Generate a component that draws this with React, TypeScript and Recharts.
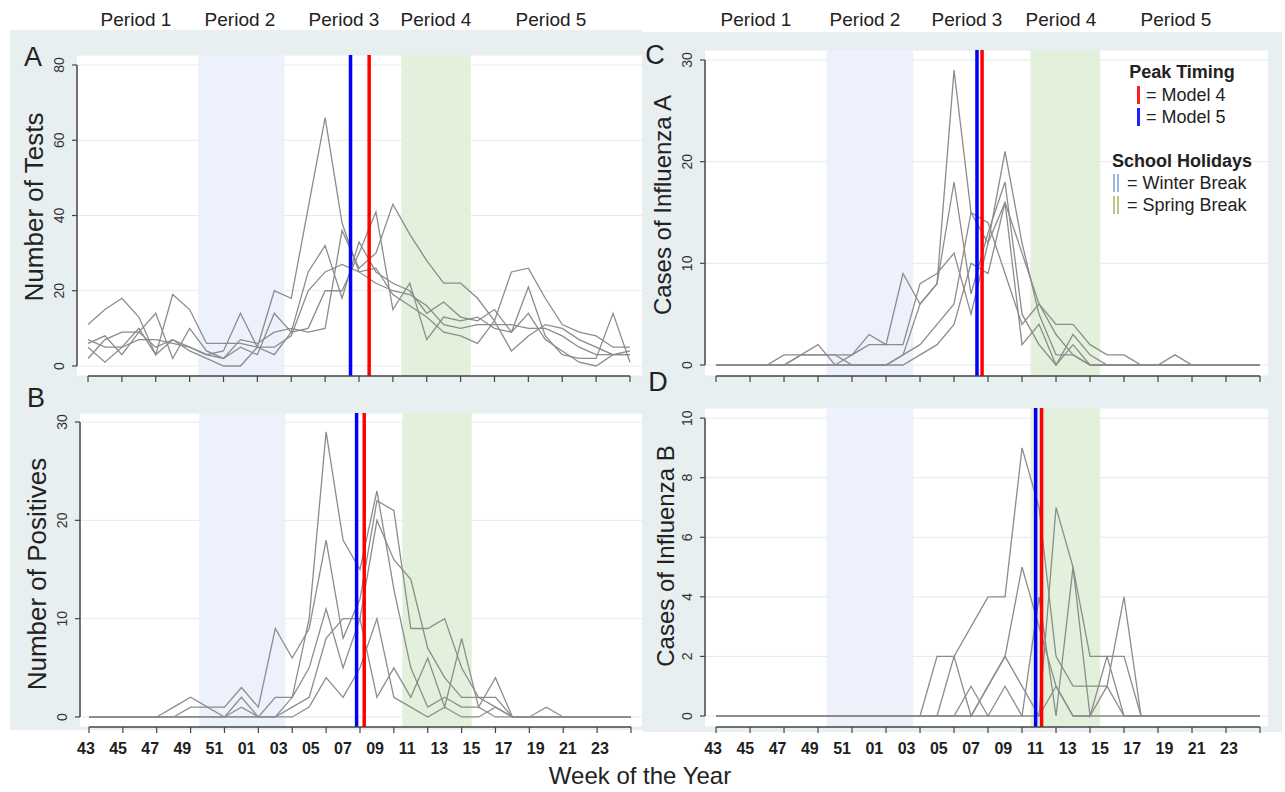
import React from 'react';
import { LineChart, Line, XAxis, YAxis, CartesianGrid, ReferenceArea, ReferenceLine } from 'recharts';

const FONT = '"Liberation Sans", Arial, Helvetica, sans-serif';

// week of the year, season runs from week 43 to week 23
const weeks = ['43', '44', '45', '46', '47', '48', '49', '50', '51', '52', '01', '02', '03', '04', '05', '06', '07',
  '08', '09', '10', '11', '12', '13', '14', '15', '16', '17', '18', '19', '20', '21', '22', '23'];
const tickWeeks = ['43', '45', '47', '49', '51', '01', '03', '05', '07', '09', '11', '13', '15', '17', '19', '21', '23'];
const periodLabels = ['Period 1', 'Period 2', 'Period 3', 'Period 4', 'Period 5'];

// school holidays, as fractional week positions
const winterBreak = [6.5, 11.6];
const springBreak = [18.5, 22.6];

// A: number of tests
const tests1 = [11, 15, 18, 13, 3, 19, 15, 6, 6, 6, 5, 20, 18, 42, 66, 38, 25, 22, 20, 19, 16, 11, 10, 11, 11, 11, 10, 10, 8, 5, 3, 3, 3];
const tests2 = [6, 8, 3, 9, 14, 2, 10, 4, 2, 5, 3, 14, 9, 25, 32, 18, 33, 25, 22, 20, 14, 17, 13, 12, 15, 9, 14, 7, 4, 1, 0, 3, 3];
const tests3 = [5, 1, 5, 7, 7, 6, 5, 3, 4, 14, 5, 5, 8, 20, 25, 27, 25, 26, 19, 16, 13, 9, 8, 6, 12, 4, 8, 11, 10, 7, 5, 3, 4];
const tests4 = [2, 7, 9, 9, 5, 7, 4, 2, 0, 0, 5, 3, 9, 10, 20, 20, 30, 41, 15, 22, 7, 13, 12, 13, 10, 9, 21, 8, 3, 2, 2, 14, 1];
const tests5 = [7, 5, 5, 10, 3, 7, 5, 3, 2, 7, 6, 9, 10, 9, 10, 36, 26, 30, 43, 35, 28, 22, 22, 18, 12, 25, 26, 18, 11, 9, 8, 5, 5];

// B: number of positives
const pos1 = [0, 0, 0, 0, 0, 0, 0, 0, 0, 0, 0, 0, 2, 10, 29, 18, 15, 23, 13, 5, 1, 2, 1, 1, 0, 0, 0, 0, 0, 0, 0, 0, 0];
const pos2 = [0, 0, 0, 0, 0, 1, 2, 1, 1, 3, 1, 9, 6, 9, 18, 8, 12, 22, 21, 9, 9, 10, 5, 2, 1, 0, 0, 0, 0, 0, 0, 0, 0];
const pos3 = [0, 0, 0, 0, 0, 0, 1, 1, 0, 2, 0, 2, 2, 5, 11, 5, 10, 20, 16, 14, 7, 4, 2, 2, 2, 0, 0, 0, 0, 0, 0, 0, 0];
const pos4 = [0, 0, 0, 0, 0, 0, 0, 0, 0, 1, 0, 0, 1, 2, 8, 10, 10, 2, 5, 2, 6, 1, 8, 1, 4, 0, 0, 1, 0, 0, 0, 0, 0];
const pos5 = [0, 0, 0, 0, 0, 0, 0, 0, 0, 0, 0, 0, 0, 1, 4, 2, 5, 10, 2, 1, 0, 1, 0, 0, 1, 0, 0, 0, 0, 0, 0, 0, 0];

// C: cases of influenza A
const fluA1 = [0, 0, 0, 0, 0, 0, 0, 0, 0, 0, 0, 1, 6, 8, 29, 15, 12, 21, 12, 5, 1, 1, 0, 0, 0, 0, 0, 0, 0, 0, 0, 0, 0];
const fluA2 = [0, 0, 0, 0, 0, 1, 1, 1, 1, 3, 2, 9, 6, 8, 18, 7, 13, 18, 5, 2, 0, 3, 1, 0, 0, 0, 0, 0, 0, 0, 0, 0, 0];
const fluA3 = [0, 0, 0, 0, 1, 1, 2, 0, 1, 2, 2, 2, 8, 9, 11, 5, 12, 16, 11, 6, 4, 4, 2, 1, 1, 0, 0, 0, 0, 0, 0, 0, 0];
const fluA4 = [0, 0, 0, 0, 0, 1, 1, 1, 0, 0, 0, 1, 2, 4, 6, 15, 14, 9, 4, 6, 3, 1, 0, 0, 0, 0, 0, 1, 0, 0, 0, 0, 0];
const fluA5 = [0, 0, 0, 0, 0, 0, 0, 0, 0, 0, 0, 0, 1, 2, 4, 10, 9, 16, 2, 4, 0, 2, 0, 0, 0, 0, 0, 0, 0, 0, 0, 0, 0];

// D: cases of influenza B
const fluB1 = [0, 0, 0, 0, 0, 0, 0, 0, 0, 0, 0, 0, 0, 0, 2, 3, 4, 4, 9, 7, 2, 1, 1, 1, 0, 0, 0, 0, 0, 0, 0, 0, 0];
const fluB2 = [0, 0, 0, 0, 0, 0, 0, 0, 0, 0, 0, 0, 0, 2, 2, 0, 1, 2, 5, 3, 1, 0, 0, 0, 0, 0, 0, 0, 0, 0, 0, 0, 0];
const fluB3 = [0, 0, 0, 0, 0, 0, 0, 0, 0, 0, 0, 0, 0, 0, 0, 1, 0, 1, 0, 0, 7, 5, 2, 2, 0, 0, 0, 0, 0, 0, 0, 0, 0];
const fluB4 = [0, 0, 0, 0, 0, 0, 0, 0, 0, 0, 0, 0, 0, 0, 0, 0, 0, 0, 0, 4, 0, 5, 0, 1, 4, 0, 0, 0, 0, 0, 0, 0, 0];
const fluB5 = [0, 0, 0, 0, 0, 0, 0, 0, 0, 0, 0, 0, 0, 0, 0, 0, 1, 2, 1, 0, 1, 0, 0, 2, 2, 0, 0, 0, 0, 0, 0, 0, 0];

// peak timing estimates (fractional week position)
const peakModel4 = { A: 16.6, B: 16.25, C: 15.65, D: 19.15 };
const peakModel5 = { A: 15.5, B: 15.8, C: 15.35, D: 18.8 };

const tickIdx = tickWeeks.map((w) => weeks.indexOf(w));

const panels = [
  {
    key: 'A', title: 'Number of Tests', titleSize: 26, series: [tests1, tests2, tests3, tests4, tests5],
    plot: { l: 77, t: 55, r: 642, b: 376 }, xDomain: [-0.65, 32.71], yDomain: [-2.66, 82.66], yTicks: [0, 20, 40, 60, 80],
    labels: false, letter: { x: 33, y: 57 }, titlePos: { x: 34, y: 207 },
  },
  {
    key: 'B', title: 'Number of Positives', titleSize: 26, series: [pos1, pos2, pos3, pos4, pos5],
    plot: { l: 80, t: 413, r: 642, b: 727 }, xDomain: [-0.53, 32.65], yDomain: [-1.02, 30.92], yTicks: [0, 10, 20, 30],
    labels: true, letter: { x: 36, y: 398 }, titlePos: { x: 37, y: 574 },
  },
  {
    key: 'C', title: 'Cases of Influenza A', titleSize: 24, series: [fluA1, fluA2, fluA3, fluA4, fluA5],
    plot: { l: 705, t: 50, r: 1268, b: 376 }, xDomain: [-0.65, 32.47], yDomain: [-1.08, 30.98], yTicks: [0, 10, 20, 30],
    labels: false, letter: { x: 655, y: 55 }, titlePos: { x: 663, y: 205 },
  },
  {
    key: 'D', title: 'Cases of Influenza B', titleSize: 24, series: [fluB1, fluB2, fluB3, fluB4, fluB5],
    plot: { l: 705, t: 408, r: 1268, b: 727 }, xDomain: [-0.65, 32.47], yDomain: [-0.37, 10.34], yTicks: [0, 2, 4, 6, 8, 10],
    labels: true, letter: { x: 658, y: 382 }, titlePos: { x: 666, y: 556 },
  },
];

const Y_AXIS_W = 40;
const X_AXIS_H = 40;

function makeXTick(show: boolean) {
  return (props: any) => {
    const { x, y, payload } = props;
    if (!show) return <g />;
    // the printed labels sit a little left of their ticks, more so toward the right
    const drift = -3 - 0.875 * payload.value;
    return (
      <text x={x + drift} y={y + 19} textAnchor="middle" fontSize={16} fontWeight="bold" fill="#1e1e1e" fontFamily={FONT}>
        {weeks[payload.value]}
      </text>
    );
  };
}

const YTick = (props: any) => {
  const { x, y, payload } = props;
  const bx = x - 6;
  return (
    <text x={bx} y={y} transform={`rotate(-90 ${bx} ${y})`} textAnchor="middle" fontSize={14} fill="#333" fontFamily={FONT}>
      {payload.value}
    </text>
  );
};

function Panel({ cfg }: { cfg: any }) {
  const { plot, xDomain, yDomain, yTicks, series, key } = cfg;
  const width = plot.r - plot.l + Y_AXIS_W;
  const height = plot.b - plot.t + X_AXIS_H;
  const data = weeks.map((w, i) => {
    const row: any = { i, week: w };
    series.forEach((s: number[], k: number) => { row['s' + k] = s[i]; });
    return row;
  });
  const yTop = yTicks[yTicks.length - 1];
  return (
    <div style={{ position: 'absolute', left: plot.l - Y_AXIS_W, top: plot.t }}>
      <LineChart width={width} height={height} data={data} margin={{ top: 0, right: 0, bottom: 0, left: 0 }}>
        <CartesianGrid vertical={false} stroke="#e3ebee" fill="#ffffff" fillOpacity={1} />
        <ReferenceArea x1={winterBreak[0]} x2={winterBreak[1]} fill="#edf1fc" fillOpacity={1} stroke="none" />
        <ReferenceArea x1={springBreak[0]} x2={springBreak[1]} fill="#e3f1dc" fillOpacity={1} stroke="none" />
        <XAxis
          type="number" dataKey="i" domain={xDomain} allowDataOverflow ticks={tickIdx} interval={0}
          height={X_AXIS_H} axisLine={false} tickLine={{ stroke: '#444', strokeWidth: 1.2 }} tickSize={6}
          tick={makeXTick(cfg.labels)}
        />
        <YAxis
          type="number" domain={yDomain} allowDataOverflow ticks={yTicks} interval={0}
          width={Y_AXIS_W} axisLine={false} tickLine={{ stroke: '#444', strokeWidth: 1.2 }} tickSize={5}
          tick={YTick}
        />
        {series.map((_: number[], k: number) => (
          <Line key={k} type="linear" dataKey={'s' + k} stroke="#8c8c8c" strokeWidth={1.3} dot={false} activeDot={false} isAnimationActive={false} />
        ))}
        <ReferenceLine x={(peakModel5 as any)[key]} stroke="#0000ff" strokeWidth={3.5} />
        <ReferenceLine x={(peakModel4 as any)[key]} stroke="#ff0000" strokeWidth={3.5} />
        <ReferenceLine segment={[{ x: 0, y: yDomain[0] }, { x: weeks.length - 1, y: yDomain[0] }]} stroke="#444" strokeWidth={1.5} ifOverflow="visible" />
        <ReferenceLine segment={[{ x: xDomain[0], y: 0 }, { x: xDomain[0], y: yTop }]} stroke="#444" strokeWidth={1.5} ifOverflow="visible" />
      </LineChart>
    </div>
  );
}

const periodX = { left: [136, 240, 344, 436, 551], right: [756, 865, 967, 1061, 1176] };

function Rotated({ x, y, size, children }: any) {
  return (
    <div style={{
      position: 'absolute', left: x, top: y, transform: 'translate(-50%, -50%) rotate(-90deg)',
      fontSize: size, fontFamily: FONT, color: '#222', whiteSpace: 'nowrap', lineHeight: 1,
    }}>{children}</div>
  );
}

function Text({ x, y, size, bold, children, anchor = 'center' }: any) {
  const tx = anchor === 'center' ? '-50%' : '0';
  return (
    <div style={{
      position: 'absolute', left: x, top: y, transform: `translate(${tx}, -50%)`, fontSize: size,
      fontWeight: bold ? 'bold' : 'normal', fontFamily: FONT, color: '#222', whiteSpace: 'nowrap', lineHeight: 1,
    }}>{children}</div>
  );
}

function Bar({ x, y, color, w = 3 }: any) {
  return <div style={{ position: 'absolute', left: x, top: y - 9, width: w, height: 18, background: color }} />;
}

export default function App() {
  return (
    <div style={{ position: 'absolute', left: 0, top: 0, width: 1285, height: 792, background: '#fff', overflow: 'hidden' }}>
      <div style={{ position: 'absolute', left: 10, top: 30, width: 632, height: 700, background: '#e8eff1' }} />
      <div style={{ position: 'absolute', left: 642, top: 32, width: 640, height: 700, background: '#e8eff1' }} />
      {periodLabels.map((p, k) => (
        <React.Fragment key={p}>
          <Text x={periodX.left[k]} y={19} size={19}>{p}</Text>
          <Text x={periodX.right[k]} y={19} size={19}>{p}</Text>
        </React.Fragment>
      ))}
      {panels.map((cfg) => (
        <React.Fragment key={cfg.key}>
          <Panel cfg={cfg} />
          <Text x={cfg.letter.x} y={cfg.letter.y} size={27}>{cfg.key}</Text>
          <Rotated x={cfg.titlePos.x} y={cfg.titlePos.y} size={cfg.titleSize}>{cfg.title}</Rotated>
        </React.Fragment>
      ))}
      <Text x={640} y={776} size={24}>Week of the Year</Text>

      <Text x={1182} y={72} size={18} bold>Peak Timing</Text>
      <Bar x={1137} y={95} color="#ff2020" />
      <Text x={1146} y={95} size={18} anchor="left">= Model 4</Text>
      <Bar x={1137} y={117} color="#2020ff" />
      <Text x={1146} y={117} size={18} anchor="left">= Model 5</Text>
      <Text x={1182} y={161} size={18} bold>School Holidays</Text>
      <Bar x={1113} y={183} color="#9ab8e6" w={2} />
      <Bar x={1117} y={183} color="#9ab8e6" w={2} />
      <Text x={1127} y={183} size={18} anchor="left">= Winter Break</Text>
      <Bar x={1113} y={205} color="#b8c882" w={2} />
      <Bar x={1117} y={205} color="#b8c882" w={2} />
      <Text x={1127} y={205} size={18} anchor="left">= Spring Break</Text>
    </div>
  );
}
